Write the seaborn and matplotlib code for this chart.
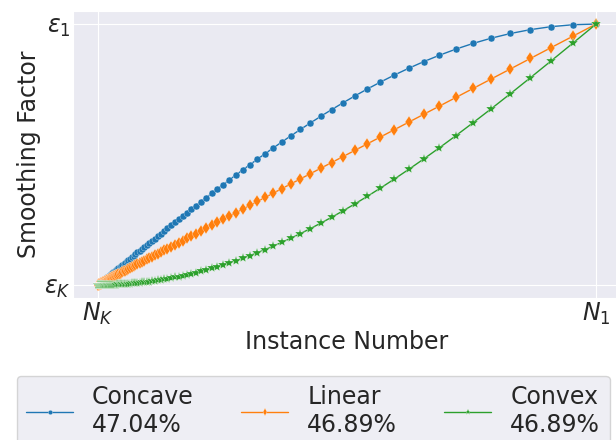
import matplotlib
matplotlib.use("Agg")
import matplotlib.pyplot as plt
import seaborn as sns
import pandas as pd

# instance position, 0 = N_K, 1 = N_1 (points bunch up near N_K)
instance = [0.0, 0.000477, 0.000977, 0.001501, 0.002050, 0.002625, 0.003227, 0.003859, 0.004520, 0.005213,
            0.005939, 0.006699, 0.007496, 0.008331, 0.009206, 0.010123, 0.011083, 0.012089, 0.013143, 0.014247,
            0.015405, 0.016617, 0.017887, 0.019218, 0.020612, 0.022073, 0.023603, 0.025207, 0.026887, 0.028647,
            0.030492, 0.032424, 0.034448, 0.036570, 0.038792, 0.041120, 0.043560, 0.046116, 0.048794, 0.051599,
            0.054539, 0.057619, 0.060845, 0.064226, 0.067768, 0.071479, 0.075367, 0.079441, 0.083709, 0.088181,
            0.092866, 0.097775, 0.102918, 0.108307, 0.113952, 0.119867, 0.126064, 0.132557, 0.139360, 0.146488,
            0.153955, 0.161779, 0.169976, 0.178565, 0.187563, 0.196991, 0.206868, 0.217217, 0.228060, 0.239420,
            0.251322, 0.263797, 0.276862, 0.290551, 0.304893, 0.319920, 0.335663, 0.352158, 0.369440, 0.387547,
            0.406517, 0.426388, 0.447212, 0.469030, 0.491889, 0.515839, 0.540932, 0.567222, 0.594767, 0.623626,
            0.653862, 0.685571, 0.718763, 0.753539, 0.789974, 0.828148, 0.868144, 0.910049, 0.953953, 1.0]

# smoothing factor, 0 = eps_K, 1 = eps_1
concave = [0.0, 0.0007, 0.0015, 0.0024, 0.0032, 0.0041, 0.0051, 0.0061, 0.0071, 0.0082,
           0.0093, 0.0105, 0.0118, 0.0131, 0.0145, 0.0159, 0.0174, 0.0190, 0.0206, 0.0224,
           0.0242, 0.0261, 0.0281, 0.0302, 0.0324, 0.0347, 0.0371, 0.0396, 0.0422, 0.0450,
           0.0479, 0.0509, 0.0541, 0.0574, 0.0609, 0.0645, 0.0684, 0.0724, 0.0766, 0.0810,
           0.0856, 0.0904, 0.0954, 0.1007, 0.1062, 0.1120, 0.1181, 0.1245, 0.1311, 0.1381,
           0.1454, 0.1530, 0.1610, 0.1693, 0.1780, 0.1872, 0.1967, 0.2067, 0.2172, 0.2280,
           0.2395, 0.2514, 0.2638, 0.2768, 0.2904, 0.3045, 0.3193, 0.3346, 0.3506, 0.3673,
           0.3846, 0.4026, 0.4213, 0.4407, 0.4608, 0.4816, 0.5032, 0.5254, 0.5483, 0.5719,
           0.5960, 0.6208, 0.6461, 0.6719, 0.6980, 0.7245, 0.7511, 0.7777, 0.8042, 0.8303,
           0.8558, 0.8805, 0.9040, 0.9260, 0.9461, 0.9638, 0.9786, 0.9900, 0.9974, 1.0]
linear = list(instance)
convex = [0.0, 0.0, 0.0, 0.0, 0.0, 0.0, 0.0, 0.0, 0.0, 0.0,
          0.0, 0.0001, 0.0001, 0.0001, 0.0001, 0.0001, 0.0002, 0.0002, 0.0002, 0.0003,
          0.0003, 0.0003, 0.0004, 0.0005, 0.0005, 0.0006, 0.0007, 0.0008, 0.0009, 0.0010,
          0.0011, 0.0013, 0.0015, 0.0016, 0.0019, 0.0021, 0.0023, 0.0026, 0.0029, 0.0033,
          0.0037, 0.0041, 0.0046, 0.0051, 0.0057, 0.0063, 0.0070, 0.0078, 0.0086, 0.0096,
          0.0106, 0.0118, 0.0130, 0.0144, 0.0160, 0.0177, 0.0195, 0.0216, 0.0239, 0.0264,
          0.0291, 0.0321, 0.0354, 0.0391, 0.0431, 0.0475, 0.0523, 0.0576, 0.0635, 0.0699,
          0.0769, 0.0846, 0.0931, 0.1024, 0.1125, 0.1236, 0.1358, 0.1491, 0.1637, 0.1796,
          0.1970, 0.2160, 0.2368, 0.2593, 0.2839, 0.3107, 0.3398, 0.3714, 0.4056, 0.4426,
          0.4827, 0.5259, 0.5725, 0.6225, 0.6760, 0.7333, 0.7944, 0.8592, 0.9277, 1.0]

labels = ['Concave\n47.04%', 'Linear\n46.89%', 'Convex\n46.89%']
markers = ['.', 'd', '*']
msizes = [10, 6, 7.5]

sns.set_style('darkgrid')
plt.rcParams['font.family'] = ['DejaVu Sans']
plt.rcParams['mathtext.fontset'] = 'dejavusans'

fig = plt.figure(figsize=(6.16, 4.4), dpi=100)
ax = fig.add_axes([73/616, 142/440, 548/616, 287/440])

pal = sns.color_palette('tab10')
for i, ys in enumerate([concave, linear, convex]):
    df = pd.DataFrame({'x': instance, 'y': ys})
    sns.lineplot(data=df, x='x', y='y', ax=ax, color=pal[i], marker=markers[i],
                 markersize=msizes[i], markeredgewidth=0.2, linewidth=1, label=labels[i])

ax.set_xticks([0, 1])
ax.set_xticklabels([r'$N_K$', r'$N_1$'], fontsize=17)
ax.set_yticks([0, 1])
ax.set_yticklabels([r'$\varepsilon_K$', r'$\varepsilon_1$'], fontsize=17)
ax.tick_params(length=0, pad=2)
ax.set_xlabel('Instance Number', fontsize=17, labelpad=2)
ax.set_ylabel('Smoothing Factor', fontsize=17, labelpad=2)

h, l = ax.get_legend_handles_labels()
ax.get_legend().remove()
fig.legend(h, l, ncol=3, loc='upper left', bbox_to_anchor=(16.5/616, 1 - 375.5/440),
           borderaxespad=0, fontsize=17, markerscale=0.65)

fig.savefig('out.png', dpi=100)
